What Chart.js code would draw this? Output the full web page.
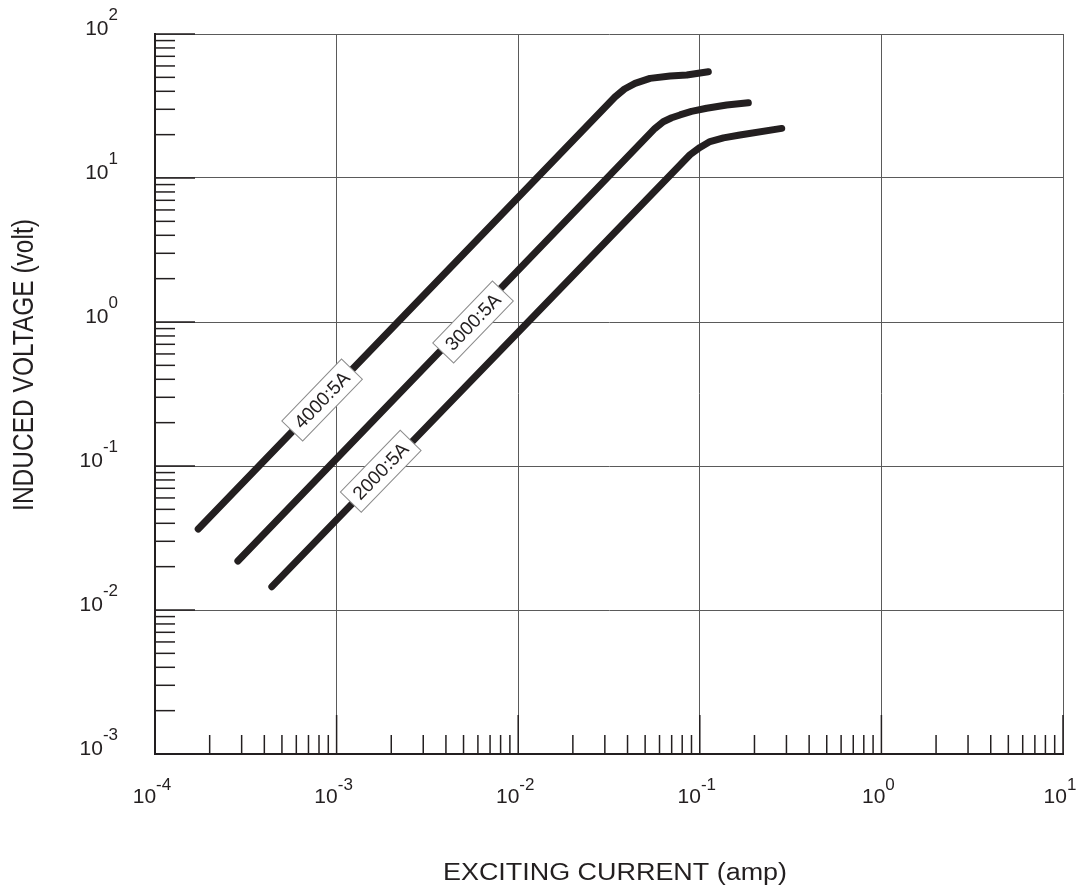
<!DOCTYPE html>
<html>
<head>
<meta charset="utf-8">
<script src="https://cdn.jsdelivr.net/npm/chart.js@4.4.0/dist/chart.umd.min.js"></script>
<style>
  html, body { margin: 0; padding: 0; background: #fff; }
  #wrap { width: 1081px; height: 895px; }
</style>
</head>
<body>
<div id="wrap"><canvas id="chart"></canvas></div>
<script>
// excitation curves (amp, volt)
const ratio4000X = [1.73e-4, 0.0341, 0.0385, 0.0440, 0.0532, 0.0686, 0.0848, 0.1114];
const ratio4000Y = [0.0365, 36.5, 41.5, 45.4, 49.2, 51.1, 51.9, 54.7];
const ratio3000X = [2.86e-4, 0.0566, 0.0629, 0.0700, 0.0778, 0.0900, 0.109, 0.1407, 0.185];
const ratio3000Y = [0.0219, 22.1, 24.6, 26.2, 27.4, 29.0, 30.5, 32.1, 33.3];
const ratio2000X = [4.40e-4, 0.0883, 0.1002, 0.1138, 0.1350, 0.1663, 0.2826];
const ratio2000Y = [0.01452, 14.5, 16.3, 17.9, 19.0, 19.9, 22.1];

// curve labels and where they sit on the curves
const labelNames = ['4000:5A', '3000:5A', '2000:5A'];
const labelX = [8.32e-4, 5.64e-3, 1.75e-3];
const labelY = [0.287, 1.0, 0.092];

// decade ticks
const xDecades = [1e-4, 1e-3, 1e-2, 1e-1, 1e0, 1e1];
const xTickExps = ['-4', '-3', '-2', '-1', '0', '1'];
const yDecades = [1e-3, 1e-2, 1e-1, 1e0, 1e1, 1e2];
const yTickExps = ['-3', '-2', '-1', '0', '1', '2'];

const ink = '#231f20';
const font = '"Liberation Sans", Arial, sans-serif';

function pts(xs, ys) {
    return xs.map((v, i) => ({x: v, y: ys[i]}));
}

function seg(ctx, x1, y1, x2, y2) {
    ctx.beginPath();
    ctx.moveTo(x1, y1);
    ctx.lineTo(x2, y2);
    ctx.stroke();
}

const decor = {
    id: 'decor',
    afterDatasetsDraw(chart) {
        const ctx = chart.ctx;
        const a = chart.chartArea;
        const x = chart.scales.x, y = chart.scales.y;
        ctx.save();
        ctx.strokeStyle = ink;
        ctx.lineWidth = 1.5;

        // ticks pointing into the plot
        for (let d = 0; d < xDecades.length; d++) {
            let p = x.getPixelForValue(xDecades[d]);
            seg(ctx, p, a.bottom, p, a.bottom - 39);
            if (d == xDecades.length - 1) continue;
            for (let m = 2; m <= 9; m++) {
                p = x.getPixelForValue(xDecades[d] * m);
                seg(ctx, p, a.bottom, p, a.bottom - 19);
            }
        }
        for (let d = 0; d < yDecades.length; d++) {
            let p = y.getPixelForValue(yDecades[d]);
            seg(ctx, a.left, p, a.left + 40, p);
            if (d == yDecades.length - 1) continue;
            for (let m = 2; m <= 9; m++) {
                p = y.getPixelForValue(yDecades[d] * m);
                seg(ctx, a.left, p, a.left + 20, p);
            }
        }

        // curve labels, turned along each line
        const sets = chart.data.datasets;
        for (let i = 0; i < labelNames.length; i++) {
            const d = sets[i].data;
            const x0 = x.getPixelForValue(d[0].x), y0 = y.getPixelForValue(d[0].y);
            const x1 = x.getPixelForValue(d[1].x), y1 = y.getPixelForValue(d[1].y);
            const ang = Math.atan2(y1 - y0, x1 - x0);
            ctx.save();
            ctx.translate(x.getPixelForValue(labelX[i]), y.getPixelForValue(labelY[i]));
            ctx.rotate(ang);
            ctx.fillStyle = '#fff';
            ctx.fillRect(-43, -14.5, 86, 29);
            ctx.strokeStyle = '#8c8c8c';
            ctx.lineWidth = 1;
            ctx.strokeRect(-43, -14.5, 86, 29);
            ctx.fillStyle = ink;
            ctx.font = '19px ' + font;
            ctx.textAlign = 'center';
            ctx.textBaseline = 'middle';
            ctx.fillText(labelNames[i], 0, 1);
            ctx.restore();
        }
        ctx.restore();
    },
    afterDraw(chart) {
        const ctx = chart.ctx;
        const x = chart.scales.x, y = chart.scales.y;
        ctx.save();
        ctx.fillStyle = ink;
        ctx.textBaseline = 'alphabetic';
        ctx.textAlign = 'left';

        // x tick labels 10^n
        for (let i = 0; i < xDecades.length; i++) {
            ctx.font = '21px ' + font;
            const w1 = ctx.measureText('10').width;
            ctx.font = '17px ' + font;
            const w2 = ctx.measureText(xTickExps[i]).width;
            const left = x.getPixelForValue(xDecades[i]) - (w1 + w2) / 2 - 3;
            ctx.font = '21px ' + font;
            ctx.fillText('10', left, 803);
            ctx.font = '17px ' + font;
            ctx.fillText(xTickExps[i], left + w1, 790);
        }
        // y tick labels
        for (let i = 0; i < yDecades.length; i++) {
            const py = y.getPixelForValue(yDecades[i]) + 1;
            ctx.font = '17px ' + font;
            const w2 = ctx.measureText(yTickExps[i]).width;
            ctx.font = '21px ' + font;
            const w1 = ctx.measureText('10').width;
            const left = 118 - w1 - w2;
            ctx.fillText('10', left, py);
            ctx.font = '17px ' + font;
            ctx.fillText(yTickExps[i], left + w1, py - 15);
        }

        // axis titles (picture is a bit wider than tall, so stretch them)
        ctx.font = '23px ' + font;
        let t = 'EXCITING CURRENT (amp)';
        let w = ctx.measureText(t).width;
        ctx.save();
        ctx.translate(615, 880);
        ctx.scale(344 / w, 1);
        ctx.textAlign = 'center';
        ctx.fillText(t, 0, 0);
        ctx.restore();

        ctx.font = '24.5px ' + font;
        ctx.save();
        ctx.translate(33, 365);
        ctx.scale(1.18, 1);
        ctx.rotate(-Math.PI / 2);
        ctx.textAlign = 'center';
        ctx.fillText('INDUCED VOLTAGE (volt)', 0, 0);
        ctx.restore();

        ctx.restore();
    }
};

const lineStyle = {
    showLine: true,
    borderColor: ink,
    borderWidth: 7,
    borderCapStyle: 'round',
    borderJoinStyle: 'round',
    pointRadius: 0,
    tension: 0,
    fill: false
};

function decadesOnly(scale, list) {
    scale.ticks = list.map(v => ({value: v}));
}

new Chart(document.getElementById('chart'), {
    type: 'scatter',
    data: {
        datasets: [
            Object.assign({label: '4000:5A', data: pts(ratio4000X, ratio4000Y)}, lineStyle),
            Object.assign({label: '3000:5A', data: pts(ratio3000X, ratio3000Y)}, lineStyle),
            Object.assign({label: '2000:5A', data: pts(ratio2000X, ratio2000Y)}, lineStyle)
        ]
    },
    options: {
        responsive: true,
        maintainAspectRatio: false,
        animation: false,
        layout: {padding: {left: 155, top: 34, right: 18, bottom: 141}},
        plugins: {legend: {display: false}, tooltip: {enabled: false}},
        scales: {
            x: {
                type: 'logarithmic',
                min: 1e-4,
                max: 1e1,
                afterBuildTicks: s => decadesOnly(s, xDecades),
                ticks: {display: false},
                grid: {color: '#5a5a5a', lineWidth: 1, drawTicks: false},
                border: {color: ink, width: 2}
            },
            y: {
                type: 'logarithmic',
                min: 1e-3,
                max: 1e2,
                afterBuildTicks: s => decadesOnly(s, yDecades),
                ticks: {display: false},
                grid: {color: '#5a5a5a', lineWidth: 1, drawTicks: false},
                border: {color: ink, width: 2}
            }
        }
    },
    plugins: [decor]
});
</script>
</body>
</html>
